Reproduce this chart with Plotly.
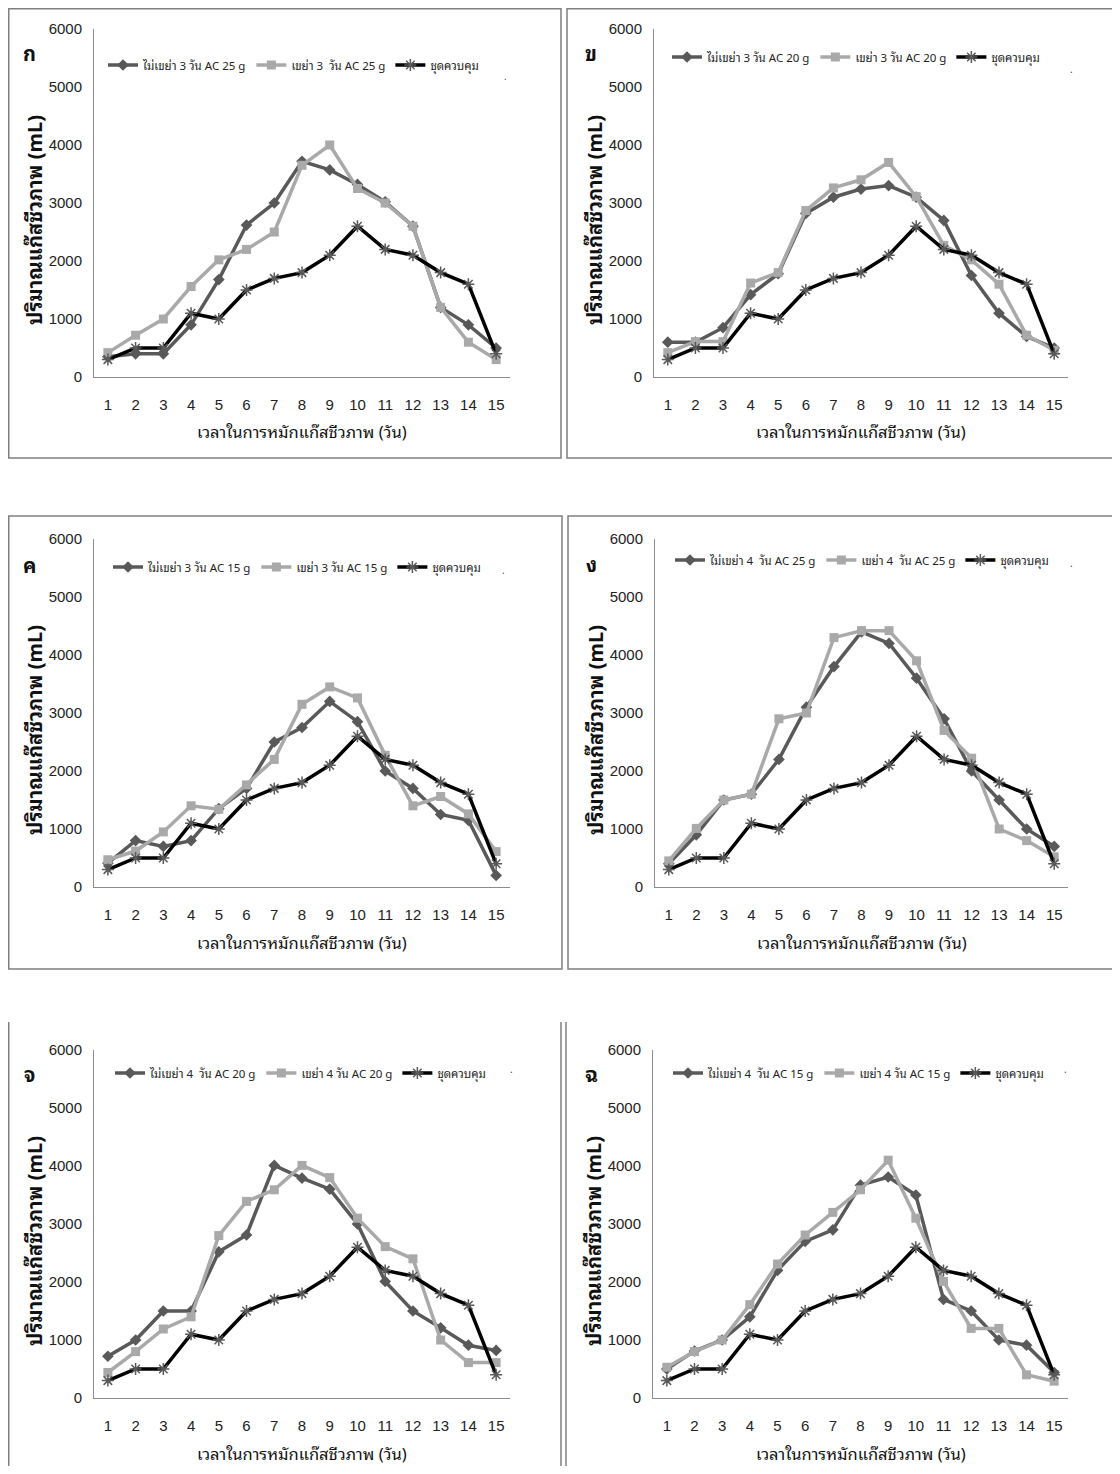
import plotly.graph_objects as go

days = list(range(1, 16))
x_tick_labels = [str(d) for d in days]
y_ticks = [0, 1000, 2000, 3000, 4000, 5000, 6000]

control = [300, 500, 500, 1100, 1000, 1500, 1700, 1800, 2100, 2600, 2200, 2100, 1800, 1600, 400]

p1_noshake = [350, 400, 400, 900, 1680, 2620, 3000, 3720, 3570, 3320, 3020, 2600, 1200, 900, 500]
p1_shake = [420, 720, 1000, 1560, 2020, 2200, 2500, 3650, 4000, 3250, 3000, 2600, 1200, 600, 300]

p2_noshake = [600, 600, 850, 1420, 1780, 2820, 3100, 3240, 3300, 3100, 2700, 1750, 1100, 700, 500]
p2_shake = [420, 610, 610, 1620, 1800, 2870, 3260, 3400, 3700, 3110, 2270, 2020, 1600, 720, 460]

p3_noshake = [410, 800, 700, 800, 1350, 1700, 2500, 2750, 3200, 2850, 2000, 1700, 1250, 1150, 200]
p3_shake = [470, 620, 950, 1400, 1340, 1760, 2200, 3150, 3450, 3260, 2270, 1400, 1560, 1260, 610]

p4_noshake = [400, 900, 1500, 1600, 2200, 3100, 3800, 4400, 4200, 3600, 2900, 2000, 1500, 1000, 700]
p4_shake = [450, 1010, 1500, 1600, 2900, 3000, 4300, 4420, 4420, 3900, 2700, 2220, 1000, 800, 520]

p5_noshake = [720, 1000, 1500, 1500, 2520, 2810, 4010, 3790, 3600, 3000, 2010, 1500, 1210, 910, 820]
p5_shake = [440, 800, 1190, 1400, 2800, 3390, 3590, 4010, 3800, 3100, 2610, 2400, 1000, 610, 610]

p6_noshake = [500, 810, 1000, 1400, 2200, 2700, 2900, 3670, 3810, 3500, 1700, 1500, 1000, 910, 440]
p6_shake = [530, 800, 1000, 1610, 2310, 2810, 3200, 3590, 4100, 3100, 2010, 1200, 1200, 400, 290]

panel_letters = ["ก", "ข", "ค", "ง", "จ", "ฉ"]
noshake_names = ["ไม่เขย่า 3 วัน AC 25 g", "ไม่เขย่า 3 วัน AC 20 g", "ไม่เขย่า 3 วัน AC 15 g",
                 "ไม่เขย่า 4  วัน AC 25 g", "ไม่เขย่า 4  วัน AC 20 g", "ไม่เขย่า 4  วัน AC 15 g"]
shake_names = ["เขย่า 3  วัน AC 25 g", "เขย่า 3 วัน AC 20 g", "เขย่า 3 วัน AC 15 g",
               "เขย่า 4  วัน AC 25 g", "เขย่า 4 วัน AC 20 g", "เขย่า 4 วัน AC 15 g"]
control_name = "ชุดควบคุม"
x_title = "เวลาในการหมักแก๊สชีวภาพ (วัน)"
y_title = "ปริมาณแก๊สชีวภาพ (mL)"

noshake_series = [p1_noshake, p2_noshake, p3_noshake, p4_noshake, p5_noshake, p6_noshake]
shake_series = [p1_shake, p2_shake, p3_shake, p4_shake, p5_shake, p6_shake]

# page has an 8px body margin: build the figure 8px smaller and shift coordinates
OFF = 8
W, H = 1120 - 2 * OFF, 1474 - 2 * OFF
NUM_FONT = "Liberation Sans, Arial, sans-serif"
THAI_FONT = "Noto Sans Thai Looped, Tahoma, Noto Sans Thai, Noto Sans, sans-serif"

# page-pixel layout of each panel: (x_left, x_right, y_top, y_bottom) of plot area
plot_px = [
    (94, 510, 29, 377),
    (654, 1068, 29, 377),
    (94, 510, 539, 887),
    (655, 1068, 539, 887),
    (94, 510, 1050, 1398),
    (653, 1068, 1050, 1398),
]
legend_px = [(103, 65), (667, 57), (108, 567), (670, 560), (110, 1073), (668, 1073)]
dot_px = [(505, 67), (1075, 60), (503, 570), (1075, 563), (512, 1078), (1069, 1078)]
letter_px = [(30, 52), (591, 52), (30, 564), (591, 563), (30, 1073), (591, 1073)]
xtitle_py = [431, 431, 941, 941, 1452, 1452]

DARK = "#595959"
LIGHT = "#a9a9a9"
AXIS = "#8c8c8c"

fig = go.Figure()


def px2x(px):
    return max(px - OFF, 0.75) / W


def px2y(py):
    return 1 - max(py - OFF, 0.75) / H


annotations = []
shapes = []
for i in range(6):
    n = i + 1
    xa = "x" if n == 1 else f"x{n}"
    ya = "y" if n == 1 else f"y{n}"
    lg = "legend" if n == 1 else f"legend{n}"
    common = dict(x=days, xaxis=xa, yaxis=ya, legend=lg, mode="lines+markers")
    fig.add_trace(go.Scatter(y=noshake_series[i], name=noshake_names[i],
                             line=dict(color=DARK, width=3.5),
                             marker=dict(symbol="diamond", size=9, color=DARK), **common))
    fig.add_trace(go.Scatter(y=shake_series[i], name=shake_names[i],
                             line=dict(color=LIGHT, width=3.5),
                             marker=dict(symbol="square", size=9, color=LIGHT), **common))
    fig.add_trace(go.Scatter(y=control, name=control_name,
                             line=dict(color="black", width=3.5),
                             marker=dict(symbol="asterisk-open", size=10, color=DARK,
                                         line=dict(color=DARK, width=1.5)), **common))

    xl, xr, yt, yb = plot_px[i]
    xkey = "xaxis" if n == 1 else f"xaxis{n}"
    ykey = "yaxis" if n == 1 else f"yaxis{n}"
    fig.layout[xkey] = dict(domain=[px2x(xl), px2x(xr)], anchor=ya, range=[0.5, 15.5],
                            tickvals=days, ticktext=x_tick_labels, showgrid=False,
                            zeroline=False, showline=True, linecolor=AXIS, linewidth=1,
                            ticks="", ticklabelstandoff=14,
                            tickfont=dict(family=NUM_FONT, size=15, color="#222"),
                            fixedrange=True, automargin=False)
    fig.layout[ykey] = dict(domain=[px2y(yb), px2y(yt)], anchor=xa, range=[0, 6000],
                            tickvals=y_ticks, showgrid=False, zeroline=False, showline=True,
                            linecolor=AXIS, linewidth=1, ticks="", ticklabelstandoff=8,
                            tickfont=dict(family=NUM_FONT, size=15, color="#222"),
                            fixedrange=True, automargin=False)
    lx, ly = legend_px[i]
    fig.layout[lg] = dict(orientation="h", x=px2x(lx), y=px2y(ly), xanchor="left",
                          yanchor="middle", bgcolor="rgba(0,0,0,0)", itemwidth=30,
                          font=dict(family=THAI_FONT, size=11.5, color="#222"))
    # x-axis title
    annotations.append(dict(text=x_title, x=px2x((xl + xr) / 2), y=px2y(xtitle_py[i]),
                            xref="paper", yref="paper", showarrow=False,
                            xanchor="center", yanchor="middle",
                            font=dict(family=THAI_FONT, size=16.5, color="#111")))
    # y-axis title
    annotations.append(dict(text="<b>" + y_title + "</b>", x=px2x(xl - 61),
                            y=px2y((yt + yb) / 2 + 17),
                            xref="paper", yref="paper", showarrow=False, textangle=-90,
                            xanchor="center", yanchor="middle",
                            font=dict(family=THAI_FONT, size=20, color="#111")))
    # panel letter
    tx, ty = letter_px[i]
    annotations.append(dict(text="<b>" + panel_letters[i] + "</b>", x=px2x(tx), y=px2y(ty),
                            xref="paper", yref="paper", showarrow=False,
                            xanchor="center", yanchor="middle",
                            font=dict(family=THAI_FONT, size=20, color="#111")))
    dx, dy = dot_px[i]
    annotations.append(dict(text=".", x=px2x(dx), y=px2y(dy), xref="paper", yref="paper",
                            showarrow=False, font=dict(size=10, color="#444")))

border = dict(color="#7f7f7f", width=1.5)
boxes = [(6, 561, 6, 458), (567, 1117, 6, 458), (6, 562, 516, 969), (568, 1117, 516, 969)]
for (x0, x1, y0, y1) in boxes:
    shapes.append(dict(type="rect", xref="paper", yref="paper", x0=px2x(x0), x1=px2x(x1),
                       y0=px2y(y1), y1=px2y(y0), line=border))
for xv in [6, 561, 566, 1117]:
    shapes.append(dict(type="line", xref="paper", yref="paper", x0=px2x(xv), x1=px2x(xv),
                       y0=0, y1=px2y(1022), line=border))

fig.update_layout(width=W, height=H,
                  margin=dict(l=0, r=0, t=0, b=0, autoexpand=False),
                  paper_bgcolor="white", plot_bgcolor="white",
                  annotations=annotations, shapes=shapes, showlegend=True)

fig.write_html("out.html")
